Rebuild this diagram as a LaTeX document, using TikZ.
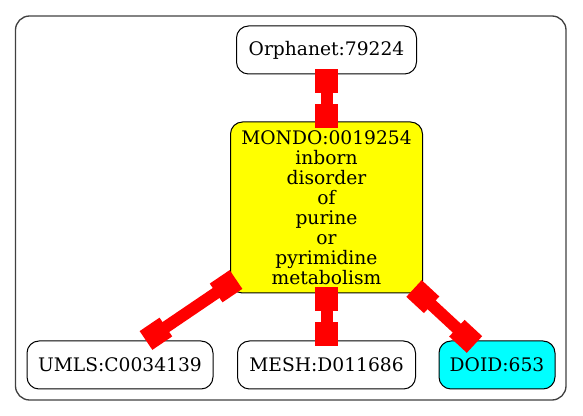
\documentclass[tikz,border=0pt]{standalone}
\usepackage{fontspec}
\setmainfont{DejaVu Serif}
\usepackage{tikz}
\usetikzlibrary{arrows.meta}
\usetikzlibrary{calc}

\definecolor{gvyellow}{RGB}{255,255,0}
\definecolor{gvcyan}{RGB}{0,255,255}
\definecolor{gvred}{RGB}{255,0,0}

\tikzset{
	term/.style={draw=black, line width=0.75pt, rounded corners=9pt, inner sep=2pt,
		minimum height=36pt, align=center, font=\fontsize{14}{15}\selectfont},
	link/.style={draw=gvred, line width=9pt,
		{Square[length=18pt,width=17pt]}-{Square[length=18pt,width=17pt]}},
}

\begin{document}
\begin{tikzpicture}[x=0.75pt, y=-0.75pt]
	\useasboundingbox (0,0) rectangle (583,416);
	
	% cluster border
	\draw[black!75, line width=1pt, rounded corners=10.5pt] (15.5,16) rectangle (566,400);
	
	\node[term, minimum width=135pt] (orpha) at (326.5,50) {Orphanet:79224};
	\node[term, fill=gvyellow, minimum width=144pt, minimum height=128.25pt] (mondo) at (326.5,207.5)
		{MONDO:0019254\\inborn\\disorder\\of\\purine\\or\\pyrimidine\\metabolism};
	\node[term, minimum width=139.5pt] (umls) at (120,365) {UMLS:C0034139};
	\node[term, minimum width=133.5pt] (mesh) at (326.5,365) {MESH:D011686};
	\node[term, fill=gvcyan, minimum width=87pt] (doid) at (497,365) {DOID:653};
	
	\draw[link] ($(orpha.south)+(0,-5)$) -- ($(mondo.north)+(0,7)$);
	\draw[link] ($(mondo.south)+(0,-6)$) -- ($(mesh.north)+(0,6)$);
	\draw[link] ($(mondo.south west)+(6,-14)$) -- ($(umls.north)+(26,0)$);
	\draw[link] ($(mondo.south east)+(-9,-5)$) -- ($(doid.north west)+(36,4)$);
\end{tikzpicture}
\end{document}
